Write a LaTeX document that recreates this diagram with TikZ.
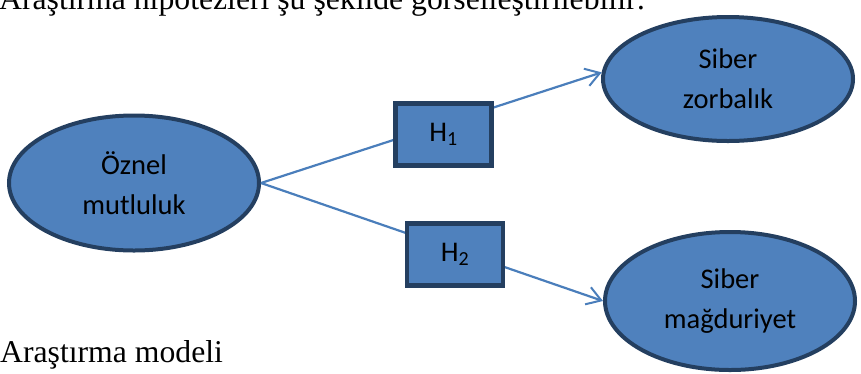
\documentclass[tikz,border=0pt]{standalone}
\usepackage{fontspec}
\setmainfont{Liberation Serif}
\newfontfamily\calibri{Carlito}
\usetikzlibrary{arrows.meta,shapes.geometric}
\definecolor{kutudolgu}{HTML}{4F81BD}
\definecolor{kutucizgi}{HTML}{243F60}
\definecolor{bagmavi}{HTML}{4A7EBB}
\tikzset{>={Straight Barb[length=14pt,width=18pt,line width=2pt]}}
\tikzset{
  degisken/.style={ellipse, draw=kutucizgi, fill=kutudolgu, line width=4pt,
    minimum width=250pt, inner sep=0pt, align=center,
    font=\calibri\fontsize{28.5}{40}\selectfont},
  hipotez/.style={rectangle, draw=kutucizgi, fill=kutudolgu, line width=4.5pt,
    minimum width=96pt, minimum height=62pt, inner sep=0pt,
    font=\calibri\fontsize{28.5}{34}\selectfont},
  bag/.style={draw=bagmavi, line width=2.2pt},
  metin/.style={anchor=base west, inner sep=0pt, font=\fontsize{31.7}{36}\selectfont}
}

\begin{document}
\begin{tikzpicture}[x=1pt,y=-1pt]
    \useasboundingbox (0,0) rectangle (861,373);
    \node[metin] (baslik) at (-1,9) {Araştırma hipotezleri şu şekilde görselleştirilebilir:};
    \node[metin] (modelyazi) at (0,362) {Araştırma modeli};
    % degiskenler
    \node[degisken, minimum height=135pt] (oznel) at (134,183) {Öznel\\mutluluk};
    \node[degisken, minimum height=124pt] (zorba) at (728,79) {Siber\\zorbalık};
    \node[degisken, minimum height=138pt] (magdur) at (730,301) {Siber\\mağduriyet};
    % baglar
    \draw[bag,->] (oznel.east) -- (zorba.177);
    \draw[bag,->] (oznel.east) -- (magdur.west);
    % hipotezler
    \node[hipotez] (h1) at (443.5,134.5) {H\textsubscript{1}};
    \node[hipotez] (h2) at (455,254.5) {H\textsubscript{2}};
\end{tikzpicture}
\end{document}
